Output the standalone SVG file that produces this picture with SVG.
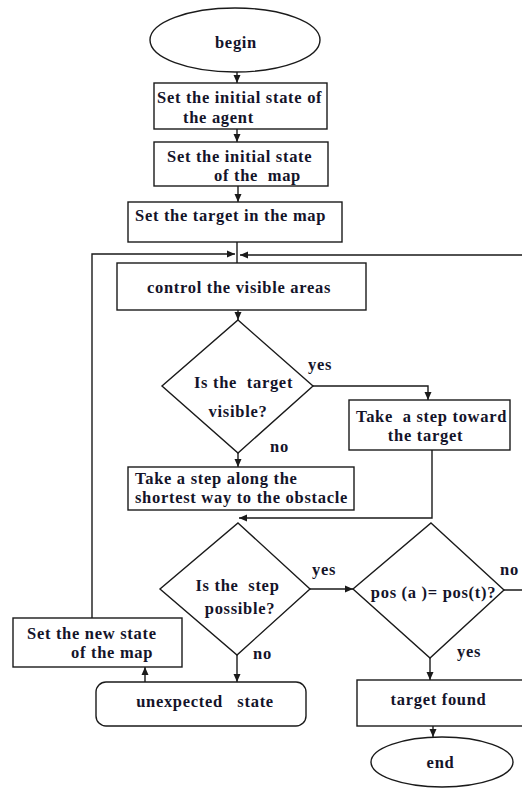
<svg xmlns="http://www.w3.org/2000/svg" width="522" height="789" viewBox="0 0 522 789">
<style>
.s{fill:#fff;stroke:#1a1a1a;stroke-width:1.4}
.c{fill:none;stroke:#1a1a1a;stroke-width:1.4}
text{font-family:"Liberation Serif","Times New Roman",serif;font-weight:bold;font-size:16.5px;letter-spacing:0.7px;fill:#14142a;white-space:pre}
.m{text-anchor:middle}
</style>
<defs>
<marker id="ah" markerUnits="userSpaceOnUse" markerWidth="8" markerHeight="8" refX="8" refY="4" orient="auto">
<path d="M0,0.5 L8,4 L0,7.5 z" fill="#1a1a1a"/>
</marker>
</defs>
<rect width="522" height="789" fill="#fff"/>
<g id="connectors">
<line class="c" x1="237" y1="72" x2="237" y2="83" marker-end="url(#ah)"/>
<line class="c" x1="237" y1="129" x2="237" y2="142" marker-end="url(#ah)"/>
<line class="c" x1="238" y1="186" x2="238" y2="202" marker-end="url(#ah)"/>
<line class="c" x1="237" y1="242" x2="237" y2="263"/>
<path class="c" d="M92,618 V254 H235" marker-end="url(#ah)"/>
<path class="c" d="M504,590 H525 V255 H240" marker-end="url(#ah)"/>
<line class="c" x1="238" y1="310" x2="238" y2="320" marker-end="url(#ah)"/>
<path class="c" d="M313,386 H428 V400" marker-end="url(#ah)"/>
<line class="c" x1="238" y1="453" x2="238" y2="467" marker-end="url(#ah)"/>
<path class="c" d="M432,450 V518 H239" marker-end="url(#ah)"/>
<line class="c" x1="310" y1="589" x2="353" y2="589" marker-end="url(#ah)"/>
<line class="c" x1="430" y1="658" x2="430" y2="680" marker-end="url(#ah)"/>
<line class="c" x1="237" y1="655" x2="237" y2="682" marker-end="url(#ah)"/>
<line class="c" x1="145" y1="682" x2="145" y2="667" marker-end="url(#ah)"/>
<line class="c" x1="433" y1="726" x2="433" y2="737" marker-end="url(#ah)"/>
<text x="308" y="370">yes</text>
<text x="270" y="452">no</text>
<text x="312" y="575">yes</text>
<text x="500" y="575">no</text>
<text x="457" y="657">yes</text>
<text x="253" y="659">no</text>
</g>
<g id="begin">
<ellipse class="s" cx="235" cy="40" rx="85" ry="32"/>
<text class="m" x="236" y="48">begin</text>
</g>
<g id="agent">
<rect class="s" x="154" y="83" width="173" height="46"/>
<text x="157" y="103">Set the initial state of</text>
<text x="183" y="123">the agent</text>
</g>
<g id="map">
<rect class="s" x="154" y="142" width="174" height="44"/>
<text x="167" y="162">Set the initial state</text>
<text x="214" y="181">of the  map</text>
</g>
<g id="target">
<rect class="s" x="128" y="202" width="214" height="40"/>
<text x="135" y="221">Set the target in the map</text>
</g>
<g id="control">
<rect class="s" x="117" y="263" width="249" height="47"/>
<text class="m" x="239" y="293">control the visible areas</text>
</g>
<g id="visible">
<polygon class="s" points="238,320 313,386 238,453 162,386"/>
<text class="m" x="243.5" y="388">Is the  target</text>
<text class="m" x="238" y="417">visible?</text>
</g>
<g id="toward">
<rect class="s" x="349" y="400" width="161" height="50"/>
<text class="m" x="431.5" y="422">Take  a step toward</text>
<text class="m" x="425.5" y="441">the target</text>
</g>
<g id="along">
<rect class="s" x="128" y="467" width="226" height="43"/>
<text x="135" y="484">Take a step along the</text>
<text x="135" y="503">shortest way to the obstacle</text>
</g>
<g id="possible">
<polygon class="s" points="238,523 310,589 237,655 160,589"/>
<text class="m" x="237.5" y="591">Is the  step</text>
<text class="m" x="240" y="614">possible?</text>
</g>
<g id="pos">
<polygon class="s" points="431,523 504,590 430,658 353,589"/>
<text class="m" x="433.5" y="598">pos (a )= pos(t)?</text>
</g>
<g id="newstate">
<rect class="s" x="13" y="618" width="169" height="49"/>
<text x="27" y="639">Set the new state</text>
<text x="71" y="658">of the map</text>
</g>
<g id="unexpected">
<rect class="s" x="96" y="682" width="210" height="44" rx="10"/>
<text class="m" x="205" y="707">unexpected   state</text>
</g>
<g id="found">
<rect class="s" x="357" y="680" width="170" height="46"/>
<text class="m" x="438.5" y="705">target found</text>
</g>
<g id="end">
<ellipse class="s" cx="442" cy="762" rx="71" ry="25"/>
<text class="m" x="440.5" y="768">end</text>
</g>
</svg>
